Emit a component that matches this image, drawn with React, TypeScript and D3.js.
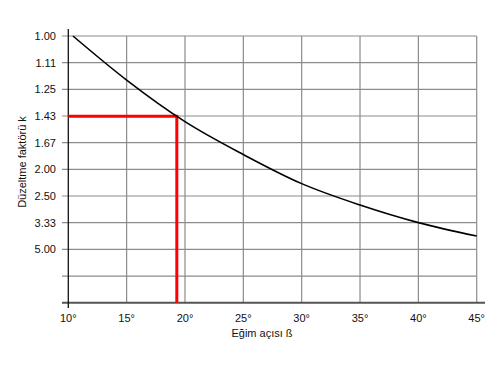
import React from 'react';
import * as d3 from 'd3';

// slope angle (degrees) and correction factor k
const angles = [10.4, 15, 20, 25, 30, 35, 40, 45];
const kValues = [1.0, 1.198, 1.473, 1.8, 2.24, 2.73, 3.33, 4.0];

const xTicks = [10, 15, 20, 25, 30, 35, 40, 45];
const yTickLabels = ['1.00', '1.11', '1.25', '1.43', '1.67', '2.00', '2.50', '3.33', '5.00', '', ''];
// gridlines are evenly spaced in 1/k
const yTickInverse = [1, 0.9, 0.8, 0.7, 0.6, 0.5, 0.4, 0.3, 0.2, 0.1, 0];

const markAngle = 19.3;
const markK = 1.43;

const App = () => {
    const width = 500;
    const height = 368;
    const left = 68.3;
    const right = 476.7;
    const top = 36;
    const bottom = 302.7;

    const x = d3.scaleLinear().domain([10, 45]).range([left, right]);
    const yInv = d3.scaleLinear().domain([1, 0]).range([top, bottom]);
    const y = (k: number) => yInv(1 / k);

    const line = d3.line<number>()
        .x((d, i) => x(angles[i]))
        .y(d => y(d))
        .curve(d3.curveMonotoneX);

    const font = 'Liberation Sans, Arial, Helvetica, sans-serif';

    return (
        <svg width={width} height={height} style={{ position: 'absolute', left: 0, top: 0 }}>
            <rect width={width} height={height} fill="#fff" />
            {/* horizontal grid */}
            {yTickInverse.map((v, i) => (
                <g key={'h' + i}>
                    {i < yTickInverse.length - 1 && (
                        <line x1={62} x2={right} y1={yInv(v)} y2={yInv(v)} stroke="#8c8c8c" strokeWidth={1.2} />
                    )}
                    <text x={56} y={yInv(v)} dy="0.35em" textAnchor="end" fontFamily={font} fontSize={11} fill="#111">
                        {yTickLabels[i]}
                    </text>
                </g>
            ))}
            {/* vertical grid */}
            {xTicks.map((t, i) => (
                <g key={'v' + i}>
                    {i > 0 && (
                        <line x1={x(t)} x2={x(t)} y1={top} y2={bottom} stroke="#8c8c8c" strokeWidth={1.2} />
                    )}
                    <text x={x(t)} y={322} textAnchor="middle" fontFamily={font} fontSize={11} fill="#111">
                        {t}°
                    </text>
                </g>
            ))}
            {/* axes */}
            <line x1={62} x2={485} y1={bottom} y2={bottom} stroke="#555" strokeWidth={2} />
            <line x1={left} x2={left} y1={29} y2={308} stroke="#111" strokeWidth={1.3} />

            {/* red reading lines */}
            <path
                d={`M${left},${y(markK)}H${x(markAngle)}V${bottom}`}
                fill="none"
                stroke="#ff0000"
                strokeWidth={3}
            />

            {/* curve */}
            <path d={line(kValues) || ''} fill="none" stroke="#000" strokeWidth={1.6} />

            <text x={262} y={337} textAnchor="middle" fontFamily={font} fontSize={11} fill="#111">
                Eğim açısı ß
            </text>
            <text
                transform="translate(26,162) rotate(-90)"
                textAnchor="middle"
                fontFamily={font}
                fontSize={11}
                fill="#111"
            >
                Düzeltme faktörü k
            </text>
        </svg>
    );
};

export default App;
